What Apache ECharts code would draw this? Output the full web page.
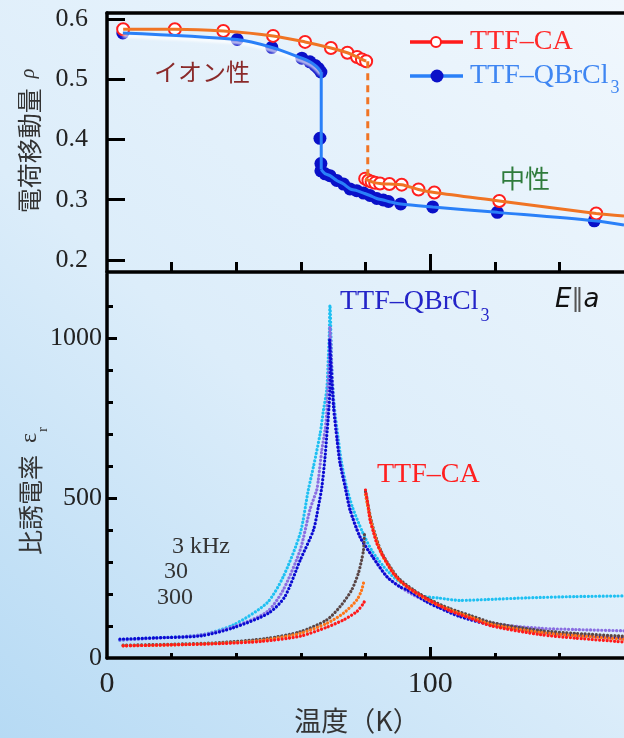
<!DOCTYPE html>
<html>
<head>
<meta charset="utf-8">
<script src="https://cdn.jsdelivr.net/npm/echarts@6/dist/echarts.min.js"></script>
<style>
html,body{margin:0;padding:0;}
#chart{width:624px;height:738px;}
</style>
</head>
<body>
<div id="chart"></div>
<script>
// 電荷移動量 (上のパネル)  [T(K), rho]
var caIonic = [[5,0.583],[21,0.583],[36,0.58],[51.4,0.572],[61.3,0.562],[69.3,0.552],[74.4,0.544],[77.4,0.537],[78.9,0.533],[80.2,0.53]];
var caNeutral = [[79.9,0.335],[80.9,0.332],[81.9,0.330],[83,0.328],[84.5,0.327],[87.4,0.326],[91.2,0.325],[96.4,0.317],[101.3,0.312],[121.4,0.298],[151.4,0.277]];
var caLineEnd = [160,0.273];
var caJump = [[80.7,0.53],[80.7,0.335]];
var qbIonic = [[4.9,0.577],[40.3,0.566],[51,0.553],[60.3,0.535],[62.8,0.529],[64.4,0.523],[65.4,0.518],[66.2,0.512]];
var qbNeutral = [[65.9,0.402],[66.2,0.36],[66.2,0.348],[67.5,0.343],[69,0.34],[71.1,0.332],[73.2,0.326],[75.2,0.318],[77.3,0.315],[79.4,0.311],[81.4,0.307],[83.5,0.302],[85.5,0.2995],[87.1,0.297],[90.9,0.293],[100.8,0.288],[120.8,0.279],[150.8,0.265]];
var qbLineEnd = [160,0.258];
var qbJumpT = 66.3;

// 比誘電率 (下のパネル)  [T(K), eps]
var qb3k = [[4,56],[15,63],[29,72],[39,103],[49.5,172],[54.5,253],[59.8,390],[62.3,525],[63.9,598],[66,703],[67,775],[68,838],[68.5,942],[68.8,1015],[69,1103],
  [69.6,900],[70.3,790],[71.5,690],[72.5,615],[74,540],[76,470],[79,395],[82,335],[85.5,287],[89,250],[92.8,223],[97,195],[103,187],[109,180],[118,183],[130,188],[145,192],[160,194]];
var qb30k = [[4,56],[15,62],[29,72],[39,97],[49.5,144],[54.5,212],[59.8,338],[62.8,463],[64.9,525],[65.4,556],[66.5,650],[67.5,713],[68,765],[68.2,817],[68.5,879],[68.8,942],[69,1035],
  [69.6,900],[70.2,790],[71.3,680],[72.2,610],[73.8,534],[75.3,463],[78.4,378],[82.5,313],[86.8,253],[90.8,222],[95,196],[100,172],[103,157],[110,133],[118.6,108],[134,93],[145,89],[160,85]];
var qb300k = [[4,59],[15,63],[29,69],[39,94],[50,140],[55,191],[59.8,306],[63.9,400],[65.4,472],[66.5,535],[67.5,629],[68,692],[68.5,754],[69,838],[69.1,920],[68.9,994],
  [70.1,785],[71.2,681],[72.1,609],[73.7,534],[75.2,463],[78.3,378],[82.4,313],[86.7,253],[90.7,222],[92.9,213],[99,175],[103,156],[109,130],[119,103],[134,82],[145,72],[160,62]];
var ca3k = [[5,40],[20,43],[35,48],[49.4,61],[59.8,82],[68,119],[72.1,160],[75.7,212],[77.8,265],[78.8,306],[79.4,338],[79.7,395]];
var ca30k = [[5,38],[20,41],[35,46],[48,55],[59.8,77],[68,108],[73.2,140],[77.3,181],[78.8,212],[79.6,244]];
var ca300k = [[5,38],[20,41],[35,45],[48,52],[59.8,68],[68,96],[73.2,119],[77.3,145],[79.4,171],[79.7,178]];
var ca3kHigh = [[80,520],[82,420],[85,330],[90,252],[95,212],[100,182],[106,155],[113,131],[119,111],[134,86],[145,77],[160,68]];
var ca30kHigh = [[80,510],[82,415],[85,325],[90,247],[95,207],[100,177],[106,151],[113,126],[119,105],[134,80],[145,70],[160,59]];
var ca300kHigh = [[80,525],[80.6,490],[81.4,431],[82.4,395],[83.5,358],[85.5,317],[88.6,265],[92.8,223],[99,185],[106,148],[113,122],[119,100],[134,73],[145,62],[160,50]];

var xMinorTicks = [20,40,60,80,120,140];
var xMajorTicks = [100];
var xLabels = [0,100];
var rhoTicks = [0.2,0.3,0.4,0.5,0.6];
var epsMinorTicks = [100,200,300,400,600,700,800,900,1100];
var epsMajorTicks = [500,1000];
var epsLabels = [0,500,1000];

var chart = echarts.init(document.getElementById('chart'));
var serif = 'Liberation Serif';
var cjk = 'Noto Sans CJK JP';
var black = '#000';

function xAxisDef(grid, pos, ticks, len, showLine, labels) {
  return {
    type: 'value', gridIndex: grid, min: 0, max: 160, position: pos,
    axisLine: {show: showLine, onZero: false, lineStyle: {color: black, width: 3.5}},
    axisTick: {show: ticks.length > 0, inside: true, length: len, customValues: ticks, lineStyle: {color: black, width: 3}},
    axisLabel: labels ? {show: true, customValues: labels, margin: 11, color: '#222', fontFamily: serif, fontSize: 30} : {show: false},
    splitLine: {show: false}
  };
}

function dotted(name, data, color) {
  return {
    name: name, type: 'line', xAxisIndex: 3, yAxisIndex: 1, data: data,
    smooth: 0.25, symbol: 'none',
    lineStyle: {color: color, width: 3.2, type: [0.1, 3.6], cap: 'round'}
  };
}

function plain(data, color, extra) {
  var s = {
    type: 'line', xAxisIndex: 0, yAxisIndex: 0, data: data, smooth: 0.3, symbol: 'none',
    lineStyle: {color: color, width: 3}
  };
  return Object.assign(s, extra || {});
}

var option = {
  animation: false,
  backgroundColor: {
    type: 'linear', x: 0, y: 1, x2: 1, y2: 0,
    colorStops: [{offset: 0, color: '#b6daf4'}, {offset: 0.45, color: '#dcedfa'}, {offset: 1, color: '#f0f7fd'}]
  },
  grid: [
    {left: 107, right: 0, top: 13, height: 259},
    {left: 107, right: 0, top: 274, height: 384}
  ],
  xAxis: [
    xAxisDef(0, 'bottom', xMinorTicks, 10, true, null),
    xAxisDef(0, 'bottom', xMajorTicks, 18, false, null),
    xAxisDef(0, 'top', [], 0, true, null),
    xAxisDef(1, 'bottom', xMinorTicks, 5, true, xLabels),
    xAxisDef(1, 'bottom', xMajorTicks, 11, false, null)
  ],
  yAxis: [
    {
      type: 'value', gridIndex: 0, min: 0.18, max: 0.61, position: 'left',
      axisLine: {show: true, onZero: false, lineStyle: {color: black, width: 3.5}},
      axisTick: {inside: true, length: 18, customValues: rhoTicks, lineStyle: {color: black, width: 3}},
      axisLabel: {customValues: rhoTicks, margin: 19, color: '#222', fontFamily: serif, fontSize: 26,
        formatter: function (v) { return v.toFixed(1); }},
      splitLine: {show: false}
    },
    {
      type: 'value', gridIndex: 1, min: 0, max: 1200, position: 'left',
      axisLine: {show: true, onZero: false, lineStyle: {color: black, width: 3.5}},
      axisTick: {inside: true, length: 6, customValues: epsMinorTicks, lineStyle: {color: black, width: 3}},
      axisLabel: {customValues: epsLabels, margin: 5, color: '#222', fontFamily: serif, fontSize: 26,
        formatter: function (v) { return String(v); }},
      splitLine: {show: false}
    },
    {
      type: 'value', gridIndex: 1, min: 0, max: 1200, position: 'left',
      axisLine: {show: false, onZero: false},
      axisTick: {inside: true, length: 10, customValues: epsMajorTicks, lineStyle: {color: black, width: 3}},
      axisLabel: {show: false},
      splitLine: {show: false}
    }
  ],
  series: [
    // TTF-QBrCl3
    plain(qbIonic, '#2a80f8', {lineStyle: {color: '#2a80f8', width: 3, shadowColor: 'rgba(255,255,255,0.95)', shadowBlur: 3, shadowOffsetY: 3}}),
    plain([[qbJumpT, 0.512], [qbJumpT, 0.35]], '#2a80f8', {smooth: false}),
    plain([[qbJumpT, 0.35]].concat(qbNeutral.slice(3)).concat([qbLineEnd]), '#2a80f8'),
    {type: 'scatter', xAxisIndex: 0, yAxisIndex: 0, data: qbIonic.concat(qbNeutral), symbolSize: 13,
      itemStyle: {color: '#0a10c8', opacity: 1}},
    // TTF-CA
    plain(caIonic, '#f07424'),
    plain(caJump, '#f07424', {smooth: false, lineStyle: {color: '#f07424', width: 3, type: [7, 5]}}),
    plain(caNeutral.concat([caLineEnd]), '#f07424'),
    {type: 'scatter', xAxisIndex: 0, yAxisIndex: 0, data: caIonic.concat(caNeutral), symbolSize: 12,
      itemStyle: {color: '#fff', borderColor: '#ff1e1e', borderWidth: 2, opacity: 1}},
    // dielectric constant
    dotted('QBrCl3 3kHz', qb3k, '#1ec0f2'),
    dotted('QBrCl3 30kHz', qb30k, '#8a6ee2'),
    dotted('QBrCl3 300kHz', qb300k, '#0a0ad2'),
    dotted('CA a', ca3k, '#5a4646'),
    dotted('CA b', ca30k, '#ff7418'),
    dotted('CA c', ca300k, '#ff1a1a'),
    dotted('CA a2', ca3kHigh, '#5a4646'),
    dotted('CA b2', ca30kHigh, '#ff7418'),
    dotted('CA c2', ca300kHigh, '#ff1a1a')
  ],
  graphic: [
    // legend
    {type: 'line', shape: {x1: 410, y1: 42, x2: 463, y2: 42}, style: {stroke: '#ff1a1a', lineWidth: 3.5}},
    {type: 'circle', shape: {cx: 436, cy: 42, r: 5}, style: {fill: '#fff', stroke: '#ff1a1a', lineWidth: 2}},
    {type: 'text', x: 470, y: 42, style: {text: 'TTF–CA', fill: '#ff2a2a', font: '28px "Liberation Serif"', textVerticalAlign: 'middle'}},
    {type: 'line', shape: {x1: 410, y1: 76, x2: 463, y2: 76}, style: {stroke: '#2a80f8', lineWidth: 3.5}},
    {type: 'circle', shape: {cx: 437, cy: 76, r: 6.5}, style: {fill: '#0a10c8'}},
    {type: 'text', x: 470, y: 76, style: {text: '{m|TTF–QBrCl}{s|3}', textVerticalAlign: 'middle',
      rich: {m: {fill: '#3f86f2', fontFamily: serif, fontSize: 28, lineHeight: 30},
             s: {fill: '#3f86f2', fontFamily: serif, fontSize: 18, lineHeight: 18, verticalAlign: 'top', padding: [18, 0, 0, 2]}}}},
    // annotations
    {type: 'text', x: 154, y: 72, style: {text: 'イオン性', fill: '#8a2a2a', font: '24px "Noto Sans CJK JP"', textVerticalAlign: 'middle'}},
    {type: 'text', x: 500, y: 178, style: {text: '中性', fill: '#2e7b3b', font: '25px "Noto Sans CJK JP"', textVerticalAlign: 'middle'}},
    {type: 'text', x: 340, y: 302, style: {text: '{m|TTF–QBrCl}{s|3}', textVerticalAlign: 'middle',
      rich: {m: {fill: '#2424c8', fontFamily: serif, fontSize: 28, lineHeight: 30},
             s: {fill: '#2424c8', fontFamily: serif, fontSize: 18, lineHeight: 18, verticalAlign: 'top', padding: [20, 0, 0, 2]}}}},
    {type: 'text', x: 377, y: 475, style: {text: 'TTF–CA', fill: '#ff2020', font: '28px "Liberation Serif"', textVerticalAlign: 'middle'}},
    {type: 'text', x: 555, y: 300, style: {text: '{i|E}{b|‖}{i|a}', textVerticalAlign: 'middle',
      rich: {i: {fill: '#111', fontFamily: 'DejaVu Sans', fontStyle: 'italic', fontSize: 26},
             b: {fill: '#555', fontFamily: 'DejaVu Sans', fontSize: 24}}}},
    {type: 'text', x: 172, y: 547, style: {text: '3 kHz', fill: '#333', font: '24px "Liberation Serif"', textVerticalAlign: 'middle'}},
    {type: 'text', x: 164, y: 572, style: {text: '30', fill: '#333', font: '24px "Liberation Serif"', textVerticalAlign: 'middle'}},
    {type: 'text', x: 157, y: 598, style: {text: '300', fill: '#333', font: '24px "Liberation Serif"', textVerticalAlign: 'middle'}},
    // axis names
    {type: 'text', x: 357, y: 721, style: {text: '温度（K）', fill: '#333', font: '27px "Noto Sans CJK JP"', textAlign: 'center', textVerticalAlign: 'middle'}},
    {type: 'text', x: 29, y: 141, rotation: Math.PI / 2, style: {text: '{c|電荷移動量}{g|  ρ}', textAlign: 'center', textVerticalAlign: 'middle',
      rich: {c: {fill: '#333', fontFamily: cjk, fontSize: 25}, g: {fill: '#333', fontFamily: serif, fontStyle: 'italic', fontSize: 20}}}},
    {type: 'text', x: 30, y: 491, rotation: Math.PI / 2, style: {text: '{c|比誘電率}{g|  ε}{s|r}', textAlign: 'center', textVerticalAlign: 'middle',
      rich: {c: {fill: '#333', fontFamily: cjk, fontSize: 25, lineHeight: 28}, g: {fill: '#333', fontFamily: serif, fontSize: 24, lineHeight: 28},
             s: {fill: '#333', fontFamily: serif, fontSize: 15, lineHeight: 15, verticalAlign: 'top', padding: [20, 0, 0, 1]}}}}
  ]
};

chart.setOption(option);
</script>
</body>
</html>
